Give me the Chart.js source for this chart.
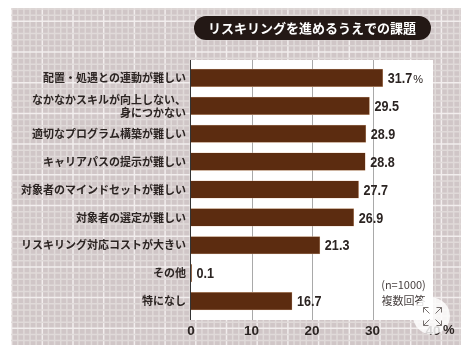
<!DOCTYPE html>
<html>
<head>
<meta charset="utf-8">
<style>
  html, body { margin: 0; padding: 0; background: #fff; }
  #wrap { width: 476px; height: 352px; }
  /* the reference is a soft, resampled scan */
  canvas { display: block; filter: blur(0.4px); }
</style>
<script src="https://cdn.jsdelivr.net/npm/chart.js@4"></script>
</head>
<body>
<div id="wrap"><canvas id="myChart" width="476" height="352"></canvas></div>
<script>
const categories = [
  '配置・処遇との連動が難しい',
  ['なかなかスキルが向上しない、', '身につかない'],
  '適切なプログラム構築が難しい',
  'キャリアパスの提示が難しい',
  '対象者のマインドセットが難しい',
  '対象者の選定が難しい',
  'リスキリング対応コストが大きい',
  'その他',
  '特になし'
];
const values = [31.7, 29.5, 28.9, 28.8, 27.7, 26.9, 21.3, 0.1, 16.7];
const xTicks = [0, 10, 20, 30, 40];
const titleText = 'リスキリングを進めるうえでの課題';
const noteLines = ['(n=1000)', '複数回答'];

const font = '"Noto Sans CJK JP", "Noto Sans", sans-serif';
const numFont = '"Liberation Sans", sans-serif';

// plaid background + white plot panel, under everything
const backdrop = {
  id: 'backdrop',
  beforeDraw(chart) {
    const { ctx, scales: { x } } = chart;
    ctx.save();
    ctx.fillStyle = '#d0c6c7';
    ctx.fillRect(11, 8, 450, 337);
    ctx.beginPath();
    ctx.rect(11, 8, 450, 337);
    ctx.clip();
    const step = 6.14;
    for (let i = 0; i * step < 450; i++) {
      const major = i % 5 === 0;
      ctx.strokeStyle = major ? '#f2eeee' : '#e0dad9';
      ctx.lineWidth = 1.5;
      ctx.beginPath();
      ctx.moveTo(11.6 + i * step, 8);
      ctx.lineTo(11.6 + i * step, 345);
      ctx.stroke();
    }
    for (let i = -2; i * step < 337; i++) {
      const major = (i + 10) % 5 === 0;
      ctx.strokeStyle = major ? '#f2eeee' : '#e0dad9';
      ctx.lineWidth = 1.5;
      ctx.beginPath();
      ctx.moveTo(11, 21.3 + i * step);
      ctx.lineTo(461, 21.3 + i * step);
      ctx.stroke();
    }
    ctx.fillStyle = '#fff';
    ctx.fillRect(191, 60, 242, 260);
    // grid lines run past the first and last bands, so drawn here
    ctx.lineWidth = 1;
    ctx.strokeStyle = '#a9a9a9';
    xTicks.slice(1, -1).forEach(t => {
      const px = Math.round(x.getPixelForValue(t)) + 0.5;
      ctx.beginPath();
      ctx.moveTo(px, 60);
      ctx.lineTo(px, 320);
      ctx.stroke();
    });
    ctx.strokeStyle = '#333';
    ctx.beginPath();
    ctx.moveTo(190.5, 60);
    ctx.lineTo(190.5, 320);
    ctx.stroke();
    ctx.restore();
  }
};

const annotations = {
  id: 'annotations',
  afterDraw(chart) {
    const { ctx } = chart;
    ctx.save();

    // title pill
    ctx.fillStyle = '#231815';
    ctx.beginPath();
    ctx.roundRect(194, 16, 237, 24, 12);
    ctx.fill();
    ctx.fillStyle = '#fff';
    ctx.font = 'bold 13px ' + font;
    ctx.textAlign = 'center';
    ctx.textBaseline = 'middle';
    ctx.fillText(titleText, 312, 28.5);

    // value labels, squeezed because the original digits are condensed
    const bars = chart.getDatasetMeta(0).data;
    ctx.fillStyle = '#2b2422';
    ctx.textAlign = 'left';
    bars.forEach((bar, i) => {
      const label = values[i].toFixed(1);
      ctx.save();
      ctx.translate(bar.x + 5, bar.y + 1);
      ctx.scale(0.84, 1);
      ctx.font = 'bold 15px ' + numFont;
      ctx.fillText(label, 0, 0);
      const w = ctx.measureText(label).width;
      ctx.restore();
      if (i === 0) {
        ctx.font = '11px ' + numFont;
        ctx.fillText('%', bar.x + 5 + w * 0.84 + 1, bar.y + 2);
      }
    });

    // sample note
    ctx.font = '11px ' + font;
    ctx.fillStyle = '#4a4342';
    ctx.textAlign = 'center';
    ctx.fillText(noteLines[0], 403.5, 285);
    ctx.fillText(noteLines[1], 403.5, 301);

    // expand button from the source page
    ctx.fillStyle = 'rgba(255,255,255,0.82)';
    ctx.beginPath();
    ctx.arc(431.5, 316, 18.5, 0, Math.PI * 2);
    ctx.fill();
    ctx.strokeStyle = '#77716f';
    ctx.lineWidth = 1;
    [[-1, -1], [1, -1], [-1, 1], [1, 1]].forEach(([sx, sy]) => {
      const cx = 432.5, cy = 316.5;
      ctx.beginPath();
      ctx.moveTo(cx + sx * 9, cy + sy * 4);
      ctx.lineTo(cx + sx * 9, cy + sy * 9);
      ctx.lineTo(cx + sx * 4, cy + sy * 9);
      ctx.moveTo(cx + sx * 9, cy + sy * 9);
      ctx.lineTo(cx + sx * 3, cy + sy * 3);
      ctx.stroke();
    });

    // % after the axis
    ctx.font = 'bold 13px ' + numFont;
    ctx.fillStyle = '#2b2422';
    ctx.textAlign = 'left';
    ctx.fillText('%', 443, 330.5);
    ctx.restore();
  }
};

new Chart(document.getElementById('myChart'), {
  type: 'bar',
  data: {
    labels: categories,
    datasets: [{
      data: values,
      backgroundColor: '#5c2c10',
      borderColor: '#d9b597',
      borderWidth: 0.5,
      barThickness: 17.5
    }]
  },
  options: {
    indexAxis: 'y',
    responsive: false,
    animation: false,
    layout: { padding: { top: 64, bottom: 0, left: 0, right: 43 } },
    plugins: { legend: { display: false }, title: { display: false }, tooltip: { enabled: false } },
    scales: {
      x: {
        min: 0,
        max: 40,
        afterFit: s => { s.height = 37; },
        grid: { display: false },
        border: { display: false },
        ticks: {
          stepSize: 10,
          maxRotation: 0,
          padding: 0,
          color: '#2b2422',
          font: { family: numFont, size: 13.5, weight: 'bold' }
        }
      },
      y: {
        afterFit: s => { s.width = 191; },
        grid: { display: false },
        border: { display: false },
        ticks: {
          padding: -3,
          autoSkip: false,
          color: '#2b2422',
          font: { family: font, size: 11, weight: 'bold', lineHeight: 1.18 }
        }
      }
    }
  },
  plugins: [backdrop, annotations]
});
</script>
</body>
</html>
